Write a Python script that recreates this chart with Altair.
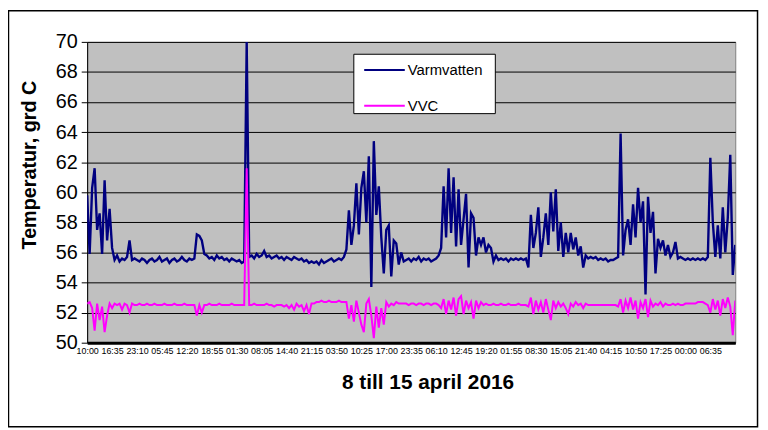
import altair as alt
import pandas as pd

STEP = 39.5  # minutes between samples

time_labels = ["10:00", "16:35", "23:10", "05:45", "12:20", "18:55", "01:30", "08:05",
               "14:40", "21:15", "03:50", "10:25", "17:00", "23:35", "06:10", "12:45",
               "19:20", "01:55", "08:30", "15:05", "21:40", "04:15", "10:50", "17:25",
               "00:00", "06:35"]
label_every = 395  # minutes between tick labels

varmvatten = [
    59.8, 55.9, 60.3, 61.6, 57.5, 58.6, 55.9, 60.8, 56.8, 58.9,
    56.3, 55.5, 55.8, 55.4, 55.6, 55.5, 55.7, 56.8, 55.5, 55.6,
    55.5, 55.4, 55.6, 55.5, 55.3, 55.5, 55.6, 55.4, 55.5, 55.7,
    55.4, 55.5, 55.6, 55.3, 55.5, 55.6, 55.4, 55.5, 55.7, 55.5,
    55.4, 55.6, 55.5, 55.6, 57.2, 57.1, 56.8, 55.9, 55.8, 55.6,
    55.7, 55.5, 55.8, 55.6, 55.7, 55.5, 55.6, 55.4, 55.6, 55.5,
    55.4, 55.5, 55.3, 55.4, 70.0, 55.7, 55.8, 55.6, 55.9, 55.7,
    55.8, 56.1, 55.7, 55.8, 55.6, 55.7, 55.8, 55.6, 55.7, 55.5,
    55.7, 55.6, 55.5, 55.7, 55.6, 55.5, 55.6, 55.4, 55.5, 55.3,
    55.4, 55.3, 55.4, 55.2, 55.5, 55.3, 55.4, 55.5, 55.6, 55.4,
    55.5, 55.6, 55.5, 55.7, 56.2, 58.8, 56.5, 57.8, 60.6, 57.2,
    60.3, 61.4, 58.0, 62.4, 53.7, 63.4, 58.5, 60.4, 57.0, 54.6,
    57.5, 57.8, 54.4, 56.8, 56.6, 55.2, 56.0, 55.4, 55.5, 55.6,
    55.4, 55.6, 55.5, 55.7, 55.4, 55.6, 55.5, 55.6, 55.4, 55.5,
    55.6, 55.8, 56.3, 60.4, 57.0, 61.6, 57.3, 61.0, 56.4, 60.2,
    56.5, 58.2, 59.9, 55.0, 58.6, 58.3, 55.8, 57.0, 56.5, 57.0,
    56.0, 56.5, 56.3, 55.4, 55.8, 55.5, 55.6, 55.5, 55.6, 55.4,
    55.6, 55.5, 55.6, 55.5, 55.6, 55.5, 55.6, 55.0, 58.5, 56.3,
    57.3, 59.0, 55.7, 57.0, 58.6, 56.5, 60.0, 57.4, 60.2, 56.1,
    58.0, 55.7, 57.3, 56.0, 57.3, 56.2, 57.0, 55.8, 56.4, 55.0,
    55.8, 55.6, 55.7, 55.6, 55.7, 55.5, 55.6, 55.5, 55.6, 55.4,
    55.5, 55.5, 55.6, 55.7, 63.9, 55.8, 57.5, 58.2, 56.5, 59.2,
    57.0, 60.3, 58.0, 59.4, 53.2, 59.7, 57.3, 58.7, 54.6, 56.9,
    56.3, 56.8, 55.8, 56.5, 55.7, 56.0, 56.7, 55.6, 55.7, 55.6,
    55.5, 55.6, 55.5, 55.6, 55.5, 55.6, 55.5, 55.6, 55.5, 55.7,
    62.3, 58.0, 55.7, 57.8, 55.6, 59.0, 56.0, 58.3, 62.5, 54.5, 56.5,
]

vvc = [
    52.6, 52.7, 52.3, 50.8, 52.6, 51.5, 52.4, 50.7, 51.8, 52.6,
    52.3, 52.6, 52.5, 52.6, 52.2, 52.6, 52.5, 52.0, 52.6, 52.5,
    52.5, 52.6, 52.5, 52.5, 52.6, 52.5, 52.5, 52.6, 52.5, 52.5,
    52.5, 52.6, 52.5, 52.5, 52.5, 52.6, 52.5, 52.5, 52.5, 52.6,
    52.5, 52.5, 52.5, 52.5, 51.8, 52.5, 52.0, 52.5, 52.5, 52.6,
    52.5, 52.5, 52.5, 52.6, 52.5, 52.5, 52.5, 52.5, 52.6, 52.5,
    52.5, 52.5, 52.5, 52.5, 61.6, 52.5, 52.5, 52.6, 52.5, 52.5,
    52.5, 52.5, 52.6, 52.5, 52.5, 52.4, 52.5, 52.5, 52.5, 52.4,
    52.5, 52.3, 52.5, 52.2, 52.6, 52.4, 52.5, 52.1, 52.5, 51.9,
    52.6, 52.6, 52.7, 52.7, 52.8, 52.7, 52.7, 52.8, 52.7, 52.7,
    52.7, 52.8, 52.7, 52.7, 52.7, 51.6, 52.5, 51.4, 52.8, 52.0,
    51.2, 50.7, 52.6, 52.9, 51.8, 50.3, 52.4, 51.0, 52.3, 51.2,
    52.7, 52.4, 52.6, 52.5, 52.7, 52.6, 52.6, 52.6, 52.6, 52.5,
    52.6, 52.6, 52.5, 52.6, 52.6, 52.5, 52.6, 52.6, 52.5, 52.6,
    52.6, 52.5, 52.3, 52.9, 51.9, 52.8, 52.2, 53.0, 51.8, 52.9,
    53.1, 51.9, 52.8, 52.3, 52.7, 51.6, 52.8, 52.3, 52.7, 52.5,
    52.6, 52.5, 52.5, 52.6, 52.5, 52.5, 52.6, 52.5, 52.5, 52.6,
    52.5, 52.5, 52.5, 52.6, 52.5, 52.5, 52.5, 52.4, 53.0, 51.9,
    52.8, 52.2, 52.7, 52.0, 52.9, 52.2, 51.5, 52.8, 52.3, 52.7,
    52.4, 52.6, 52.3, 51.9, 52.6, 52.4, 52.7, 52.5, 52.6, 52.3,
    52.6, 52.5, 52.5, 52.5, 52.5, 52.5, 52.5, 52.5, 52.5, 52.5,
    52.5, 52.5, 52.5, 52.4, 52.9, 52.0, 52.8, 52.3, 53.0, 52.2,
    52.8, 51.6, 52.7, 52.3, 52.9, 51.7, 52.8, 52.4, 52.6, 52.5,
    52.7, 52.4, 52.6, 52.5, 52.5, 52.6, 52.5, 52.6, 52.5, 52.5,
    52.6, 52.6, 52.6, 52.6, 52.6, 52.7, 52.7, 52.7, 52.6, 52.5,
    52.0, 52.9, 52.2, 52.8, 51.8, 52.9, 52.3, 53.0, 52.4, 50.5, 52.8,
]

series_names = ["Varmvatten", "VVC"]
series_colors = ["#000080", "#FF00FF"]

df_v = pd.DataFrame({"t": [i * STEP for i in range(len(varmvatten))], "v": varmvatten,
                     "serie": series_names[0]})
df_c = pd.DataFrame({"t": [i * STEP for i in range(len(vvc))], "v": vvc,
                     "serie": series_names[1]})
t_max = (max(len(varmvatten), len(vvc)) - 1) * STEP

FONT = "Liberation Sans"
label_array = "[" + ",".join("'" + s + "'" for s in time_labels) + "]"

color_enc = alt.Color(
    "serie:N",
    scale=alt.Scale(domain=series_names, range=series_colors),
    legend=alt.Legend(
        orient="none", legendX=279, legendY=7, title=None, direction="vertical",
        padding=0, symbolType="stroke", symbolSize=1681, symbolStrokeWidth=2,
        labelFontSize=15, labelFont=FONT, labelColor="black", labelOffset=2,
        rowPadding=6,
    ),
)

x_enc = alt.X(
    "t:Q",
    scale=alt.Scale(domain=[0, t_max], nice=False, zero=False),
    axis=alt.Axis(
        values=[i * label_every for i in range(len(time_labels))],
        labelExpr=label_array + "[round(datum.value/" + str(label_every) + ")]",
        grid=False, ticks=False, domainColor="black", domainWidth=3,
        labelFontSize=9, labelPadding=4, labelColor="black", labelFont=FONT,
        labelOverlap=False, labelFlush=False,
        title="8 till 15 april 2016", titleFontSize=21, titleFontWeight="bold",
        titleFont=FONT, titleColor="black", titleX=344, titleY=46,
        titleBaseline="alphabetic", titleAlign="center",
    ),
)

y_enc = alt.Y(
    "v:Q",
    scale=alt.Scale(domain=[50, 70], nice=False, zero=False),
    axis=alt.Axis(
        values=list(range(50, 71, 2)), grid=True, gridColor="black", gridWidth=1,
        tickColor="black", tickSize=6, domainColor="black", labelOverlap=False,
        labelFontSize=20, labelPadding=4, labelColor="black", labelFont=FONT,
        title="Temperatur, grd C", titleFontSize=20, titleFontWeight="bold",
        titleFont=FONT, titleColor="black", titleX=-58, titleY=124,
        titleAlign="center", titleBaseline="middle", titleAngle=270,
    ),
)

# white legend box (decoration behind the legend entries)
legend_box = alt.Chart(alt.Data(values=[{}])).mark_rect(
    fill="white", stroke="black", strokeWidth=1
).encode(
    x=alt.value(269.5), x2=alt.value(412.5), y=alt.value(12.5), y2=alt.value(72.5)
)

line_v = alt.Chart(df_v).mark_line(strokeWidth=2.4, clip=True).encode(
    x=x_enc, y=y_enc, color=color_enc,
)
line_c = alt.Chart(df_c).mark_line(strokeWidth=2, clip=True).encode(
    x=x_enc, y=y_enc, color=color_enc,
)

border = alt.Chart(alt.Data(values=[{}])).mark_rect(
    fill="white", fillOpacity=0, stroke="black", strokeWidth=1.5
).encode(
    x=alt.value(-79.5), x2=alt.value(677.5), y=alt.value(-31.5), y2=alt.value(389)
)

chart = alt.layer(legend_box, line_v, line_c, border).properties(
    width=655, height=304,
    autosize=alt.AutoSizeParams(type="none"),
    padding={"left": 80, "top": 32, "right": 25, "bottom": 88},
    background="white",
).configure_view(
    fill="#C0C0C0", stroke="#808080", strokeWidth=1
)

chart.save("out.html", embed_options={"renderer": "svg", "actions": False})
